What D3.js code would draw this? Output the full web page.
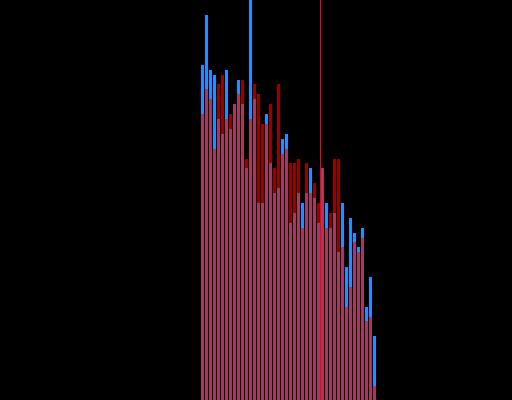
<!DOCTYPE html>
<html>
<head>
<meta charset="utf-8">
<script src="https://cdn.jsdelivr.net/npm/d3@7/dist/d3.min.js"></script>
<style>
  html, body { margin: 0; padding: 0; background: #000; overflow: hidden; }
  svg { display: block; }
</style>
</head>
<body>
<svg id="chart" width="512" height="400"></svg>
<script>
// Bin indices (44 bins)
const bins = d3.range(44);
// Series A (blue) counts per bin
const seriesA = [67, 77, 66, 65, 56.2, 53.2, 66, 54.2, 59.2, 64, 59.2, 46.4, 80, 60.2, 39.4, 39.4, 57.2, 47.4, 41.4, 42.4, 52.2, 53.2, 35.4, 37.4, 41.4, 39.4, 41.4, 46.4, 40.4, 35.4, 46.4, 39.4, 34.4, 37.4, 29.6, 39.4, 26.6, 36.4, 33.4, 30.6, 34.4, 18.6, 24.6, 12.8];
// Series B (red) counts per bin
const seriesB = [57.2, 62.2, 60.2, 50.2, 63.2, 65, 56.2, 57.2, 59.2, 61.2, 64, 48.2, 56.2, 63.2, 61.2, 55.2, 55.2, 59.2, 46.4, 63.2, 49.2, 50.2, 47.4, 47.4, 48.2, 34.4, 47.4, 41.4, 43.4, 39.4, 46.4, 34.4, 37.4, 48.2, 48.2, 30.6, 18.6, 22.6, 31.6, 29.6, 32.4, 15.8, 16.6, 2.8];
// Marker position (in bin units)
const markerValue = 29.875;
const yMax = 80;

const svg = d3.select("#chart");
const W = 512, H = 400;

const x = d3.scaleBand()
  .domain(bins)
  .range([201, 201 + 4 * (bins.length - 0.25)])
  .paddingInner(0.25)
  .paddingOuter(0);

const xLin = d3.scaleLinear().domain([0, bins.length]).range([201, 201 + 4 * bins.length]);

const y = d3.scaleLinear().domain([0, yMax]).range([H, 0]);

svg.append("rect").attr("width", W).attr("height", H).attr("fill", "#000");

svg.append("g").selectAll("rect")
  .data(bins)
  .join("rect")
  .attr("x", d => x(d))
  .attr("width", x.bandwidth())
  .attr("y", d => y(seriesA[d]))
  .attr("height", d => H - y(seriesA[d]))
  .attr("fill", "#1e90ff");

svg.append("g").selectAll("rect")
  .data(bins)
  .join("rect")
  .attr("x", d => x(d))
  .attr("width", x.bandwidth())
  .attr("y", d => y(seriesB[d]))
  .attr("height", d => H - y(seriesB[d]))
  .attr("fill", "#ff0000")
  .attr("fill-opacity", 0.6);

svg.append("line")
  .attr("x1", xLin(markerValue))
  .attr("x2", xLin(markerValue))
  .attr("y1", 0)
  .attr("y2", H)
  .attr("stroke", "#ff0000")
  .attr("stroke-width", 1);
</script>
</body>
</html>
